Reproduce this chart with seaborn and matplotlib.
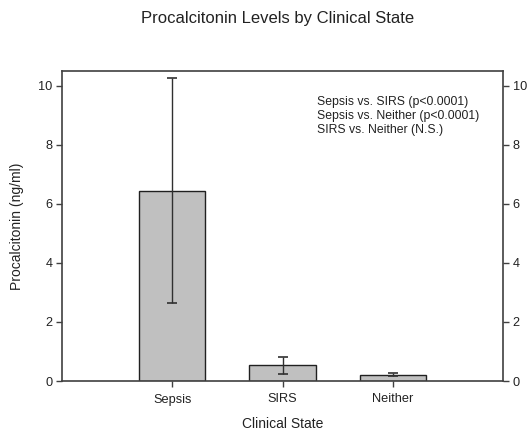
import matplotlib
matplotlib.use("Agg")
import matplotlib.pyplot as plt
import seaborn as sns
import pandas as pd

states = ["Sepsis", "SIRS", "Neither"]
means = [6.45, 0.53, 0.22]
errors = [3.8, 0.28, 0.06]
y_ticks = [0, 2, 4, 6, 8, 10]
notes = ["Sepsis vs. SIRS (p<0.0001)",
         "Sepsis vs. Neither (p<0.0001)",
         "SIRS vs. Neither (N.S.)"]

sns.set_style("ticks")
plt.rcParams["font.family"] = ["Liberation Sans", "DejaVu Sans"]
txt = "#222222"

df = pd.DataFrame({"state": states, "mean": means, "err": errors})

fig = plt.figure(figsize=(5.31, 4.33), dpi=100)
ax = fig.add_axes([62 / 531, 1 - 381 / 433, (503 - 62) / 531, (381 - 71) / 433])

sns.barplot(data=df, x="state", y="mean", order=states, color="#c0c0c0",
            saturation=1, width=0.6, edgecolor="#202020", linewidth=1.0,
            errorbar=None, ax=ax)
ax.errorbar(range(len(states)), df["mean"], yerr=df["err"], fmt="none",
            ecolor="#303030", elinewidth=1.0, capsize=3.5, capthick=1.2)

ax.set_xlim(-1.0, 3.0)
ax.set_ylim(0, 10.5)
ax.set_yticks(y_ticks)
ax.set_yticklabels([str(v) for v in y_ticks])

for s in ax.spines.values():
    s.set_visible(True)
    s.set_color("#404040")
    s.set_linewidth(1.2)

ax.tick_params(axis="both", direction="out", length=4, width=1,
               color="#404040", labelsize=9.2, labelcolor=txt, pad=3)
ax.tick_params(axis="x", pad=5)
ax.tick_params(axis="y", right=True, labelright=True)

ax.set_xlabel("Clinical State", fontsize=10, color=txt, labelpad=8.5)
ax.set_ylabel("Procalcitonin (ng/ml)", fontsize=10, color=txt, labelpad=10)

fig.text(278 / 531, 1 - 19 / 433, "Procalcitonin Levels by Clinical State",
         ha="center", va="center", fontsize=12, color=txt)

ax.text(0.578, 0.918, "\n".join(notes), transform=ax.transAxes,
        ha="left", va="top", fontsize=8.8, color=txt, linespacing=1.2)

fig.savefig("out.png", dpi=100)
